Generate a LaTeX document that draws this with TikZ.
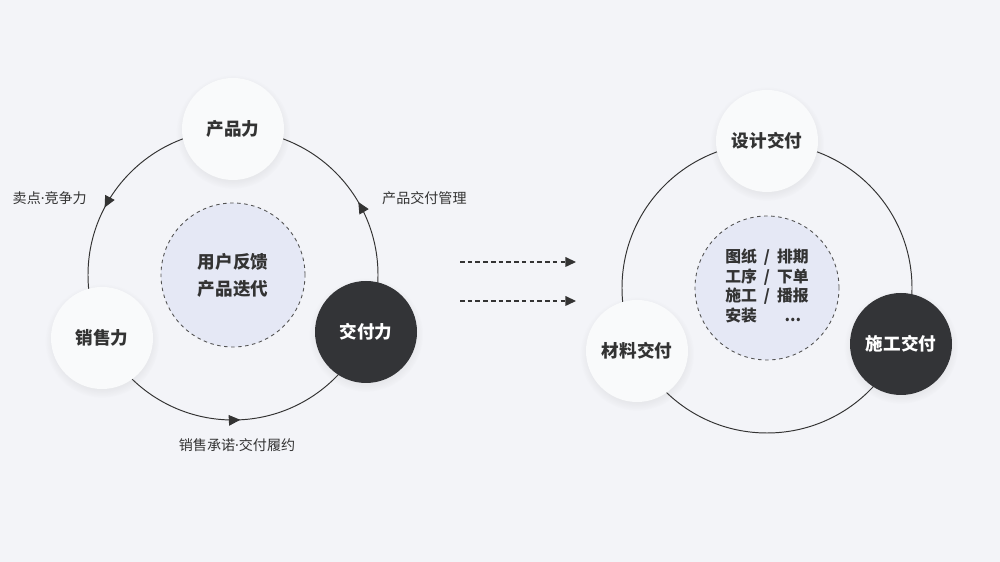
\documentclass[tikz,border=0pt]{standalone}
\usepackage{fontspec}
\setmainfont{Noto Sans CJK SC}
\newfontfamily\latinfont{Noto Sans}
\usepackage{xcolor}
\usetikzlibrary{positioning,calc,shadows,decorations.markings,arrows.meta}

\definecolor{bg}{HTML}{F3F4F8}
\definecolor{ink}{HTML}{333333}
\definecolor{dark}{HTML}{333437}
\definecolor{lite}{HTML}{F9FAFB}
\definecolor{hubfill}{HTML}{E5E8F5}

\newcommand{\middot}{{\latinfont\bfseries ·}}

\begin{document}
\begin{tikzpicture}[
    ring/.style={draw=ink, line width=0.55pt},
    flow/.style={ring, decoration={markings,
        mark=at position 0.084 with {\arrow{Triangle[length=6.5pt,width=6pt]}},
        mark=at position 0.423 with {\arrow{Triangle[length=6.5pt,width=6pt]}},
        mark=at position 0.758 with {\arrow{Triangle[length=6.5pt,width=6pt]}}},
        postaction=decorate},
    ball/.style={circle, minimum size=2.04cm, inner sep=0pt,
        font=\fontsize{10}{12}\selectfont\bfseries,
        circular drop shadow={shadow xshift=0pt, shadow yshift=-0.05cm, shadow scale=1.12, opacity=0.10}},
    liteball/.style={ball, fill=lite, text=ink},
    darkball/.style={ball, fill=dark, text=white},
    hub/.style={circle, minimum size=2.88cm, inner sep=0pt, fill=hubfill,
        draw=ink!85, dash pattern=on 2pt off 2pt, line width=0.5pt, text=ink, align=center},
    tag/.style={font=\fontsize{8}{10}\selectfont, text=ink},
    next/.style={draw=ink, line width=0.7pt, dash pattern=on 2.6pt off 1.8pt,
        -{Triangle[length=6pt,width=5.5pt]}}
]
    % Canvas
    \fill[bg] (0,0) rectangle (20,11.24);
    \useasboundingbox (0,0) rectangle (20,11.24);

    % Left loop
    \coordinate (L) at (4.66,5.74);
    \draw[flow] (L) circle (2.9);
    \node[hub, font=\fontsize{10}{15.3}\selectfont\bfseries] (feedback) at (L) {用户反馈\\产品迭代};
    \node[liteball] (product) at (4.66,8.66) {产品力};
    \node[liteball] (sales) at (2.04,4.48) {销售力};
    \node[darkball] (deliver) at (7.32,4.60) {交付力};

    % Loop labels
    \node[tag, anchor=east] (selling) at (1.86,7.28) {卖点\middot 竞争力};
    \node[tag, anchor=west] (manage) at (7.52,7.28) {产品交付管理};
    \node[tag] (promise) at (4.74,2.34) {销售承诺\middot 交付履约};

    % Arrows between
    \coordinate (from1) at (9.2,6.0);
    \coordinate (to1) at (11.52,6.0);
    \coordinate (from2) at (9.2,5.22);
    \coordinate (to2) at (11.52,5.22);
    \draw[next] (from1) -- (to1);
    \draw[next] (from2) -- (to2);

    % Right loop
    \coordinate (R) at (15.34,5.48);
    \draw[ring] (R) circle (2.9);
    \node[hub, font=\fontsize{9}{11.3}\selectfont\bfseries] (steps) at (R) {%
        \begin{tabular}{@{}l@{\hspace{4pt}}c@{\hspace{4pt}}c@{}}
        图纸 & / & 排期\\
        工序 & / & 下单\\
        施工 & / & 播报\\
        安装 &   & ...
        \end{tabular}};
    \node[liteball] (design) at (15.34,8.42) {设计交付};
    \node[liteball] (material) at (12.74,4.22) {材料交付};
    \node[darkball] (build) at (18.02,4.36) {施工交付};
\end{tikzpicture}
\end{document}
